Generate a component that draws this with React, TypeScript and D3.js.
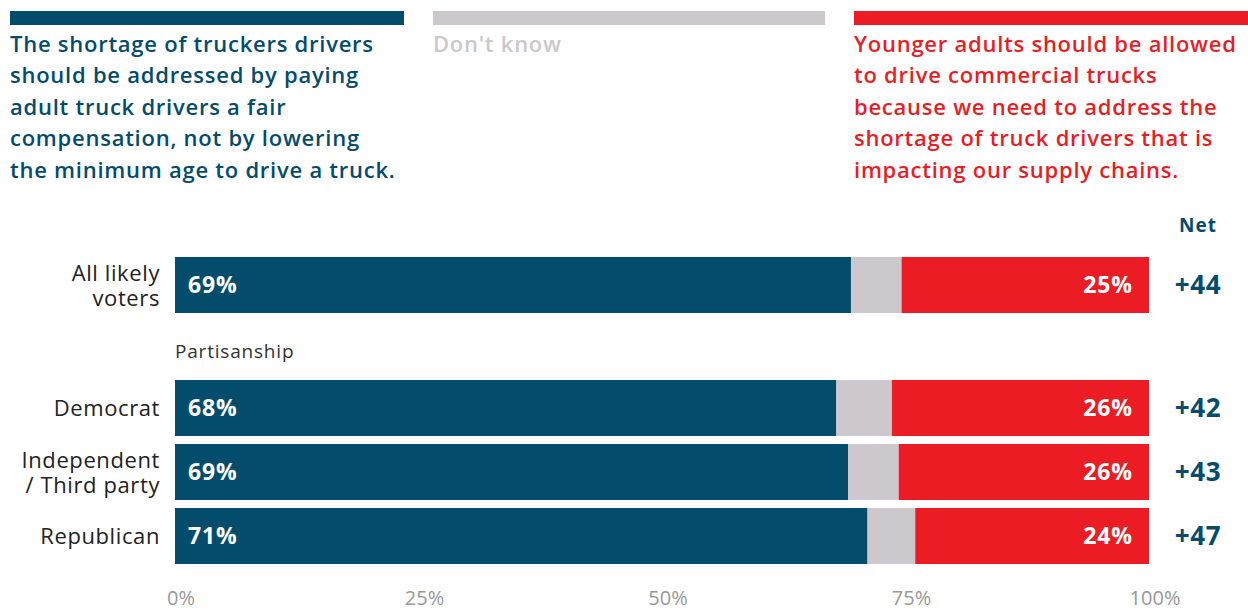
import React from "react";
import * as d3 from "d3";

const W = 1248;
const H = 610;

const topCategory = ["All likely voters"];
const partisanCategories = ["Democrat", "Independent / Third party", "Republican"];
const categoryLines: Record<string, string[]> = {
  "All likely voters": ["All likely", "voters"],
  Democrat: ["Democrat"],
  "Independent / Third party": ["Independent", "/ Third party"],
  Republican: ["Republican"],
};
const categories = [...topCategory, ...partisanCategories];

const fairPay = [69.4, 67.9, 69.1, 71.1];
const dontKnow = [5.2, 5.7, 5.2, 4.9];
const youngerDrivers = [25.4, 26.4, 25.7, 24.0];
const fairPayLabels = ["69%", "68%", "69%", "71%"];
const youngerLabels = ["25%", "26%", "26%", "24%"];
const netLabels = ["+44", "+42", "+43", "+47"];

const tickValues = [0, 25, 50, 75, 100];

const legendFair = [
  "The shortage of truckers drivers",
  "should be addressed by paying",
  "adult truck drivers a fair",
  "compensation, not by lowering",
  "the minimum age to drive a truck.",
];
const legendDK = ["Don't know"];
const legendYounger = [
  "Younger adults should be allowed",
  "to drive commercial trucks",
  "because we need to address the",
  "shortage of truck drivers that is",
  "impacting our supply chains.",
];

const BLUE = "#034C6C";
const GREY = "#CDC8CC";
const RED = "#EC1C24";
const FONT = "'Open Sans', Lato, sans-serif";

export default function App() {
  const x = d3.scaleLinear().domain([0, 100]).range([175, 1149]);
  const yTop = d3.scaleBand().domain(topCategory).range([253, 317]).paddingInner(0.125).paddingOuter(0.0625);
  const yPart = d3.scaleBand().domain(partisanCategories).range([376, 568]).paddingInner(0.125).paddingOuter(0.0625);
  const yPos = (c: string) => (topCategory.includes(c) ? yTop(c)! : yPart(c)!);
  const bw = yPart.bandwidth();

  const legends = [
    { x0: 10, x1: 404, color: BLUE, lines: legendFair },
    { x0: 433, x1: 825, color: GREY, lines: legendDK },
    { x0: 854, x1: 1248, color: RED, lines: legendYounger },
  ];

  return (
    <svg width={W} height={H} style={{ position: "absolute", left: 0, top: 0, background: "#fff" }} fontFamily={FONT}>
      {legends.map((lg, i) => (
        <g key={i}>
          <rect x={lg.x0} y={11} width={lg.x1 - lg.x0} height={14} fill={lg.color} />
          {lg.lines.map((t, j) => (
            <text
              key={j}
              x={lg.x0}
              y={52 + j * 31.4}
              fill={lg.color}
              fontSize={22}
              fontWeight={600}
              letterSpacing={0.75}
            >
              {t}
            </text>
          ))}
        </g>
      ))}

      <text x={1198} y={232} textAnchor="middle" fill={BLUE} fontSize={19} fontWeight={700} letterSpacing={1}>
        Net
      </text>

      <text x={175} y={358} fill="#333" fontSize={19} letterSpacing={0.8}>
        Partisanship
      </text>

      {categories.map((c, i) => {
        const y0 = yPos(c);
        const cy = y0 + bw / 2;
        const a = fairPay[i];
        const b = dontKnow[i];
        const lines = categoryLines[c];
        return (
          <g key={c}>
            <rect x={x(0)} y={y0} width={x(a) - x(0)} height={bw} fill={BLUE} />
            <rect x={x(a)} y={y0} width={x(a + b) - x(a)} height={bw} fill={GREY} />
            <rect x={x(a + b)} y={y0} width={x(100) - x(a + b)} height={bw} fill={RED} />
            <text x={x(0) + 13} y={cy + 8} fill="#fff" fontSize={23} fontWeight={700} letterSpacing={0.9}>
              {fairPayLabels[i]}
            </text>
            <text
              x={x(100) - 16}
              y={cy + 8}
              textAnchor="end"
              fill="#fff"
              fontSize={23}
              fontWeight={700}
              letterSpacing={0.9}
            >
              {youngerLabels[i]}
            </text>
            <text
              x={1198}
              y={cy + 9}
              textAnchor="middle"
              fill={BLUE}
              fontSize={26}
              fontWeight={700}
              letterSpacing={0.6}
            >
              {netLabels[i]}
            </text>
            {lines.map((t, j) => (
              <text
                key={j}
                x={160}
                y={cy + 8 + (j - (lines.length - 1) / 2) * 25}
                textAnchor="end"
                fill="#222"
                fontSize={22}
                letterSpacing={0.6}
              >
                {t}
              </text>
            ))}
          </g>
        );
      })}

      {tickValues.map((v) => (
        <text key={v} x={x(v) + 6} y={605} textAnchor="middle" fill="#999" fontSize={20}>
          {v}%
        </text>
      ))}
    </svg>
  );
}
